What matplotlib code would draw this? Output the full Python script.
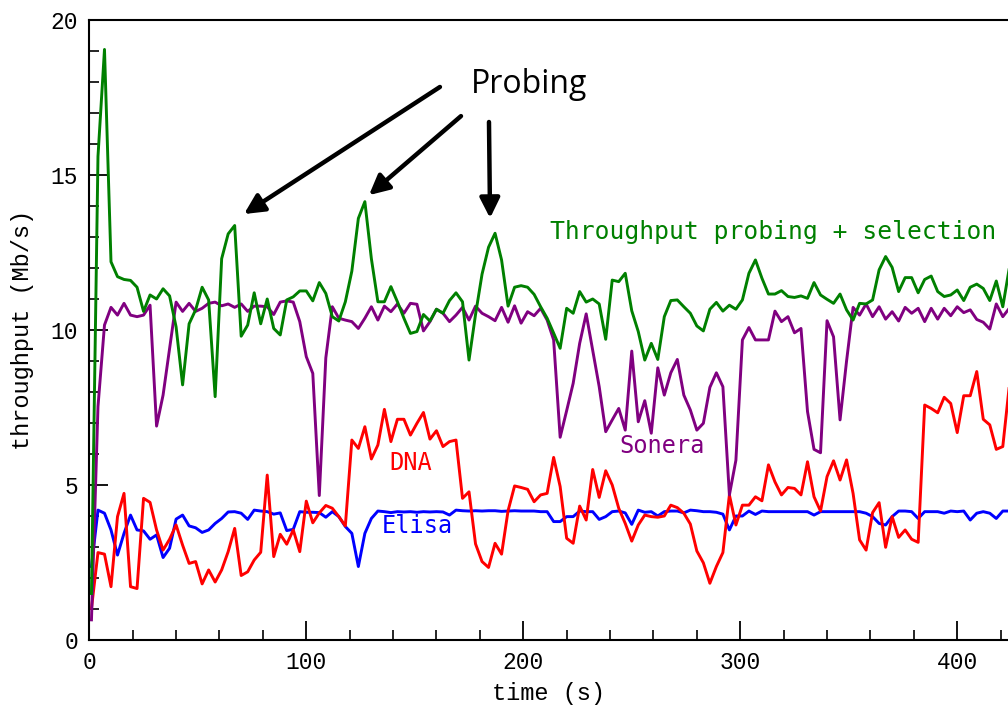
import matplotlib
matplotlib.use("Agg")
import matplotlib.pyplot as plt
import numpy as np

# sample times (s): one sample every 3 s
time_s = np.arange(1, 427, 3)

probing_selection = [
    1.5, 15.6, 19.05, 12.2, 11.72, 11.63, 11.6, 11.38, 10.6, 11.13,
    11.0, 11.33, 11.1, 10.1, 8.23, 10.2, 10.65, 11.38, 10.97, 7.85,
    12.3, 13.1, 13.37, 9.8, 10.16, 11.2, 10.2, 11.0, 10.05, 9.84,
    10.97, 11.07, 11.26, 11.26, 10.94, 11.53, 11.18, 10.43, 10.29, 10.91,
    11.9, 13.6, 14.14, 12.3, 10.91, 10.91, 11.4, 10.91, 10.38, 9.89,
    9.95, 10.5, 10.29, 10.67, 10.54, 10.95, 11.2, 10.91, 9.03, 10.5,
    11.8, 12.67, 13.12, 12.26, 10.77, 11.38, 11.43, 11.38, 11.15, 10.75,
    10.38, 9.9, 9.41, 10.7, 10.54, 11.24, 10.9, 11.0, 10.84, 9.7,
    11.61, 11.56, 11.83, 10.62, 9.95, 9.03, 9.57, 9.05, 10.43, 10.95,
    10.97, 10.75, 10.54, 10.13, 9.97, 10.67, 10.89, 10.61, 10.8, 10.67,
    10.97, 11.83, 12.26, 11.67, 11.16, 11.16, 11.27, 11.08, 11.05, 11.1,
    11.02, 11.53, 11.13, 10.99, 10.86, 11.16, 10.65, 10.32, 10.86, 10.84,
    10.97, 11.94, 12.37, 12.02, 11.24, 11.69, 11.69, 11.2, 11.63, 11.74,
    11.24, 11.08, 11.13, 11.29, 10.95, 11.38, 11.48, 11.34, 10.95, 11.58,
    10.75, 12.0,
]

sonera = [
    0.65, 7.53, 10.16, 10.73, 10.48, 10.86, 10.48, 10.43, 10.48, 10.8,
    6.9, 7.9, 9.4, 10.9, 10.6, 10.86, 10.6, 10.7, 10.86, 10.9,
    10.78, 10.84, 10.73, 10.84, 10.6, 10.77, 10.77, 10.75, 10.5, 10.9,
    10.94, 10.9, 10.27, 9.14, 8.6, 4.66, 9.1, 10.75, 10.38, 10.32,
    10.27, 10.05, 10.38, 10.75, 10.32, 10.77, 10.59, 10.84, 10.54, 10.86,
    10.83, 9.97, 10.27, 10.67, 10.54, 10.27, 10.48, 10.73, 10.32, 10.77,
    10.54, 10.43, 10.3, 10.73, 10.25, 10.78, 10.22, 10.59, 10.46, 10.7,
    10.32, 9.68, 6.54, 7.4, 8.28, 9.57, 10.52, 9.35, 8.17, 6.72,
    7.1, 7.47, 6.77, 9.32, 7.04, 7.72, 6.67, 8.78, 7.9, 8.62,
    9.05, 7.9, 7.42, 6.77, 6.99, 8.15, 8.62, 8.17, 4.68, 5.8,
    9.68, 10.08, 9.68, 9.68, 9.68, 10.61, 10.27, 10.43, 9.91, 10.05,
    7.37, 6.15, 6.04, 10.3, 9.78, 7.1, 9.0, 10.73, 10.48, 10.84,
    10.43, 10.75, 10.35, 10.59, 10.29, 10.73, 10.54, 10.7, 10.27, 10.7,
    10.35, 10.7, 10.46, 10.75, 10.56, 10.65, 10.34, 10.25, 10.03, 10.84,
    10.43, 10.7,
]

dna = [
    1.02, 2.82, 2.77, 1.72, 3.98, 4.73, 1.72, 1.66, 4.57, 4.44,
    3.55, 2.9, 3.25, 3.71, 3.06, 2.47, 2.53, 1.81, 2.26, 1.87,
    2.26, 2.85, 3.6, 2.08, 2.2, 2.58, 2.83, 5.32, 2.69, 3.41,
    3.09, 3.55, 2.85, 4.48, 3.78, 4.1, 4.34, 4.25, 3.98, 3.68,
    6.45, 6.18, 6.88, 5.84, 6.29, 7.44, 6.4, 7.12, 7.12, 6.61,
    6.99, 7.34, 6.48, 6.75, 6.24, 6.4, 6.45, 4.57, 4.78, 3.1,
    2.53, 2.34, 3.12, 2.77, 4.17, 4.97, 4.92, 4.86, 4.46, 4.68,
    4.73, 5.89, 4.95, 3.28, 3.12, 4.32, 3.87, 5.5, 4.6, 5.46,
    5.0, 4.25, 3.76, 3.19, 3.71, 4.03, 3.98, 3.96, 4.0, 4.35,
    4.27, 4.09, 3.74, 2.87, 2.49, 1.83, 2.37, 2.82, 4.68, 3.71,
    4.35, 4.35, 4.62, 4.49, 5.65, 5.1, 4.68, 4.92, 4.89, 4.68,
    5.75, 4.62, 4.16, 5.27, 5.78, 5.16, 5.81, 4.73, 3.23, 2.9,
    4.11, 4.43, 2.99, 3.98, 3.31, 3.55, 3.25, 3.15, 7.58, 7.47,
    7.33, 7.83, 7.63, 6.69, 7.88, 7.88, 8.66, 7.12, 6.94, 6.15,
    6.24, 8.2,
]

elisa = [
    2.37, 4.19, 4.09, 3.55, 2.74, 3.44, 4.03, 3.55, 3.52, 3.25,
    3.39, 2.66, 2.96, 3.9, 4.03, 3.68, 3.62, 3.47, 3.55, 3.76,
    3.92, 4.13, 4.14, 4.09, 3.89, 4.19, 4.16, 4.14, 4.06, 4.1,
    3.53, 3.57, 4.14, 4.12, 4.12, 4.11, 3.96, 4.14, 3.98, 3.66,
    3.44, 2.37, 3.44, 3.92, 4.16, 4.14, 4.11, 4.14, 4.13, 4.14,
    4.12, 4.14, 4.13, 4.14, 4.13, 4.03, 4.19, 4.17, 4.16, 4.17,
    4.16, 4.17, 4.17, 4.15, 4.16, 4.17, 4.16, 4.16, 4.16, 4.14,
    4.14, 3.82, 3.82, 3.98, 3.98, 4.16, 4.14, 4.14, 3.89, 3.98,
    4.14, 4.16, 4.1, 3.73, 4.19, 4.12, 4.14, 4.0, 4.14, 4.16,
    4.16, 4.1, 4.19, 4.17, 4.14, 4.14, 4.12, 4.06, 3.55, 4.0,
    4.0, 4.16, 4.05, 4.16, 4.14, 4.14, 4.14, 4.14, 4.14, 4.14,
    4.14, 4.03, 4.14, 4.14, 4.14, 4.14, 4.14, 4.14, 4.14, 4.09,
    3.98, 3.76, 3.71, 3.98, 4.16, 4.16, 4.14, 3.92, 4.14, 4.14,
    4.14, 4.09, 4.16, 4.14, 4.16, 3.87, 4.09, 4.14, 4.09, 3.92,
    4.16, 4.16,
]

# arrows for the "Probing" note: (tail, head) in data units
probe_arrows = [
    ((161.6, 17.84), (71.3, 13.74)),
    ((171.3, 16.9), (128.9, 14.35)),
    ((184.2, 16.71), (184.7, 13.61)),
]

mono = "Liberation Mono"
label_mono = "DejaVu Sans Mono"

fig = plt.figure(figsize=(10.08, 7.13), dpi=100)
ax = fig.add_axes([89.3 / 1008, 73 / 713, 1 - 89.3 / 1008, 620 / 713])

ax.plot(time_s, elisa, color="#0000ff", lw=2.1)
ax.plot(time_s, dna, color="#ff0000", lw=2.1)
ax.plot(time_s, sonera, color="#800080", lw=2.1)
ax.plot(time_s, probing_selection, color="#008000", lw=2.1)

ax.set_xlim(0, 423.4)
ax.set_ylim(0, 20)
ax.set_xticks(np.arange(0, 401, 100))
ax.set_xticks(np.arange(0, 421, 20), minor=True)
ax.set_yticks(np.arange(0, 21, 5))
ax.set_yticks(np.arange(0, 21, 1), minor=True)

ax.tick_params(which="major", direction="in", length=14, width=1.3, labelsize=16.5, pad=8)
ax.tick_params(which="minor", direction="in", length=7, width=1.2)
for lab in ax.get_xticklabels() + ax.get_yticklabels():
    lab.set_fontfamily(mono)

ax.spines["right"].set_visible(False)
for side in ["left", "bottom", "top"]:
    ax.spines[side].set_linewidth(1.5)

ax.set_xlabel("time (s)", fontsize=17, family=mono, labelpad=6)
ax.set_ylabel("throughput (Mb/s)", fontsize=17, family=mono, labelpad=12)

ax.text(212.3, 12.93, "Throughput probing + selection", color="#008000",
        fontsize=17.7, family=label_mono, ha="left", va="baseline")
ax.text(138.3, 5.48, "DNA", color="#ff0000", fontsize=17, family=label_mono,
        ha="left", va="baseline")
ax.text(134.9, 3.45, "Elisa", color="#0000ff", fontsize=17, family=label_mono,
        ha="left", va="baseline")
ax.text(244.1, 6.03, "Sonera", color="#800080", fontsize=17, family=label_mono,
        ha="left", va="baseline")

ax.text(202.6, 17.65, "Probing", fontsize=23, family="Open Sans",
        ha="center", va="baseline")
for tail, head in probe_arrows:
    ax.annotate("", xy=head, xytext=tail,
                arrowprops=dict(arrowstyle="-|>", color="black", lw=3.2,
                                mutation_scale=30, shrinkA=0, shrinkB=0))

fig.savefig("out.png", dpi=100)
